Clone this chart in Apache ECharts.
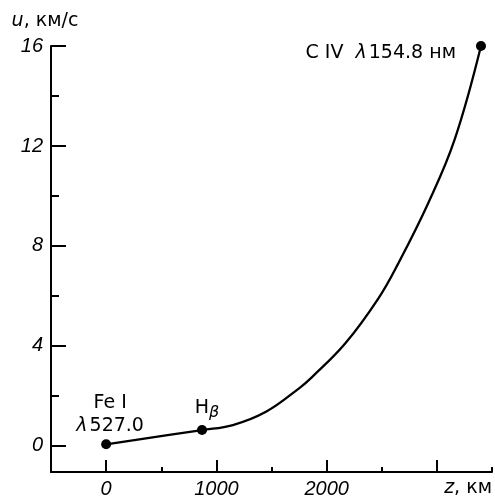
<!DOCTYPE html>
<html>
<head>
<meta charset="utf-8">
<script src="https://cdn.jsdelivr.net/npm/echarts@6/dist/echarts.min.js"></script>
<style>
  html, body { margin: 0; padding: 0; background: #fff; }
  #chart { width: 495px; height: 499px; }
</style>
</head>
<body>
<div id="chart"></div>
<script>
// curve u(z), z in km, u in km/s
var curveZ = [0, 870, 1150, 1450, 1750, 1870, 2170, 2470, 2650, 2920, 3160, 3400];
var curveU = [0.06, 0.63, 0.83, 1.36, 2.30, 2.76, 4.1, 5.9, 7.3, 9.7, 12.24, 16];

// marked lines
var pointNames = ['Fe I', 'Hβ', 'C IV'];
var pointZ = [0, 870, 3400];
var pointU = [0.06, 0.63, 16];

// ticks
var yMajor = [0, 4, 8, 12, 16];
var yMinor = [2, 6, 10, 14];
var xMajor = [0, 1000, 2000, 3000];
var xLabels = [0, 1000, 2000];
var xMinor = [500, 1500, 2500, 3500];

var FONT = 'Liberation Sans';
var TFONT = 'DejaVu Sans'; // annotations, a bit wider
var FS = 20;
var TFS = 19;
var BLACK = '#000';

var labelCfg = [
  { // Fe I
    show: true, position: 'top', distance: 2, offset: [4, 0],
    align: 'center', lineHeight: 23,
    formatter: 'Fe I\n{l|λ}527.0',
    fontFamily: TFONT, fontSize: TFS, color: BLACK,
    rich: { l: { fontStyle: 'italic', fontFamily: TFONT, fontSize: TFS, color: BLACK, padding: [0, 2, 0, 0] } }
  },
  { // H beta
    show: true, position: 'top', distance: 4, offset: [5, 0],
    formatter: 'H{b|β}',
    fontFamily: TFONT, fontSize: TFS, color: BLACK,
    rich: { b: { fontStyle: 'italic', fontFamily: TFONT, fontSize: 16, color: BLACK, padding: [10, 0, 0, 0] } }
  },
  { // C IV
    show: true, position: 'left', distance: 20, offset: [0, 7],
    formatter: 'C IV  {l|λ}154.8 нм',
    fontFamily: TFONT, fontSize: TFS, color: BLACK,
    rich: { l: { fontStyle: 'italic', fontFamily: TFONT, fontSize: TFS, color: BLACK, padding: [0, 2, 0, 0] } }
  }
];

var curveData = curveZ.map(function (z, i) { return [z, curveU[i]]; });
var pointData = pointZ.map(function (z, i) {
  return { name: pointNames[i], value: [z, pointU[i]], label: labelCfg[i] };
});

var tickLabelStyle = {
  fontFamily: FONT, fontSize: FS, fontStyle: 'italic', color: BLACK,
  formatter: function (v) { return String(v); }
};

var option = {
  animation: false,
  grid: { left: 51, right: 3, top: 46, bottom: 27 },
  xAxis: [
    {
      type: 'value', min: -500, max: 3500, position: 'bottom',
      splitLine: { show: false },
      axisLine: { show: true, onZero: false, lineStyle: { color: BLACK, width: 2 } },
      axisTick: { show: true, inside: true, length: 12, lineStyle: { color: BLACK, width: 2 }, customValues: xMajor },
      axisLabel: Object.assign({ margin: 7, customValues: xLabels }, tickLabelStyle),
      name: '{i|z}, км',
      nameLocation: 'end',
      nameGap: 0,
      nameTextStyle: {
        fontFamily: TFONT, fontSize: TFS, color: BLACK,
        align: 'right', verticalAlign: 'top', padding: [7, 0, 0, 0],
        rich: { i: { fontFamily: TFONT, fontSize: TFS, fontStyle: 'italic', color: BLACK } }
      }
    },
    {
      type: 'value', min: -500, max: 3500, position: 'bottom', offset: 0,
      splitLine: { show: false },
      axisLine: { show: false, onZero: false },
      axisTick: { show: true, inside: true, length: 5, lineStyle: { color: BLACK, width: 2 }, customValues: xMinor },
      axisLabel: { show: false }
    }
  ],
  yAxis: [
    {
      type: 'value', min: -1.05, max: 16, position: 'left',
      splitLine: { show: false },
      axisLine: { show: true, onZero: false, lineStyle: { color: BLACK, width: 2 } },
      axisTick: { show: true, inside: true, length: 15, lineStyle: { color: BLACK, width: 2 }, customValues: yMajor },
      axisLabel: Object.assign({ margin: 8, customValues: yMajor }, tickLabelStyle),
      name: '{i|u}, км/с',
      nameLocation: 'end',
      nameGap: 25,
      nameTextStyle: {
        fontFamily: TFONT, fontSize: TFS, color: BLACK,
        align: 'center', verticalAlign: 'middle', padding: [0, 12, 0, 0],
        rich: { i: { fontFamily: TFONT, fontSize: TFS, fontStyle: 'italic', color: BLACK } }
      }
    },
    {
      type: 'value', min: -1.05, max: 16, position: 'left', offset: 0,
      splitLine: { show: false },
      axisLine: { show: false, onZero: false },
      axisTick: { show: true, inside: true, length: 8, lineStyle: { color: BLACK, width: 2 }, customValues: yMinor },
      axisLabel: { show: false }
    }
  ],
  series: [
    {
      type: 'line',
      data: curveData,
      smooth: 0.4,
      showSymbol: false,
      lineStyle: { color: BLACK, width: 2.3 },
      z: 2
    },
    {
      type: 'scatter',
      data: pointData,
      symbol: 'circle',
      symbolSize: 10,
      itemStyle: { color: BLACK, opacity: 1 },
      z: 3
    }
  ]
};

var chart = echarts.init(document.getElementById('chart'), null, { renderer: 'canvas' });
chart.setOption(option);
</script>
</body>
</html>
